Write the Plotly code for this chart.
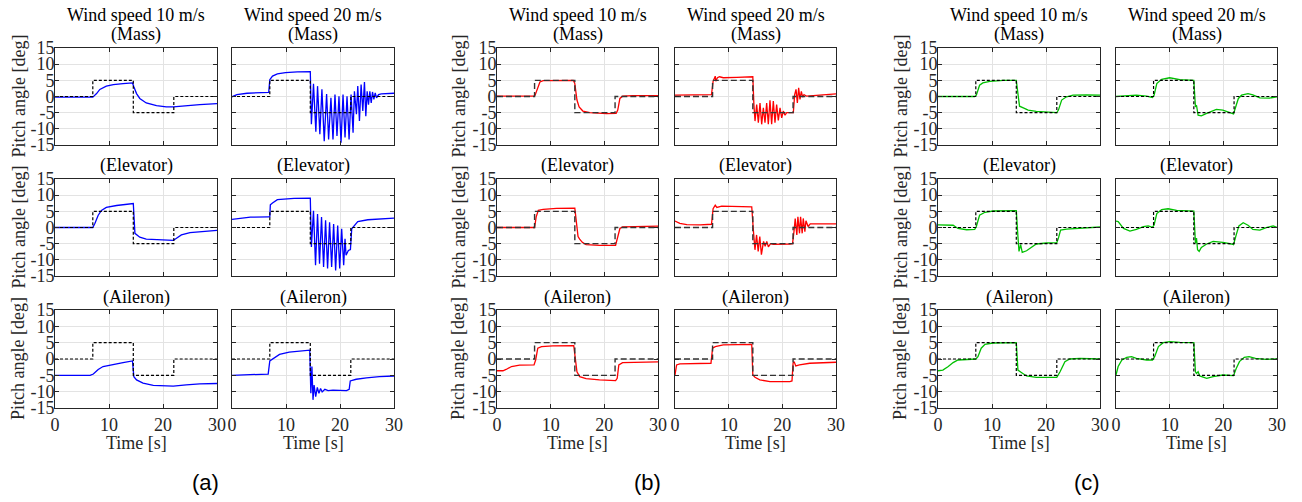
import plotly.graph_objects as go

# ---------------- data ----------------
ref_t = [0, 7, 7, 14.5, 14.5, 22, 22, 30]
ref_y = [0, 0, 5, 5, -5, -5, 0, 0]

x_ticks = [0, 10, 20, 30]
y_ticks = [-15, -10, -5, 0, 5, 10, 15]
y_ticktext = ["-15", "-10", "-5", "0", "5", "10", "15"]

col_titles = ["Wind speed 10 m/s", "Wind speed 20 m/s"]
row_titles = ["(Mass)", "(Elevator)", "(Aileron)"]
group_labels = ["(a)", "(b)", "(c)"]
group_colors = ["#0000FF", "#FF0000", "#00C000"]

# group (a)
a_m10_t = [0, 6.8, 7.0, 7.7, 8.3, 9.5, 10.8, 12.6, 14.35, 14.6, 15.1, 15.7, 16.9, 18.8, 20.6, 21.9, 24.3, 26.8, 30]
a_m10_y = [-0.2, -0.3, -0.2, 0.9, 2.2, 3.2, 3.7, 4.0, 4.2, 3.0, 0.9, -0.6, -2.0, -2.8, -3.2, -3.2, -2.8, -2.5, -2.2]
a_m20_t = [0, 0.9, 2.8, 4.7, 6.8, 7.0, 7.5, 8.4, 9.9, 12.1, 14.5, 14.7, 15.09, 15.53, 15.84, 16.27, 16.65, 17.08,
           17.52, 17.89, 18.32, 18.70, 19.07, 19.44, 19.81, 20.19, 20.56, 20.93, 21.30, 21.68, 22.05, 22.42, 22.67,
           23.04, 23.29, 23.60, 23.91, 24.22, 24.53, 24.78, 25.03, 25.28, 25.53, 25.78, 26.02, 26.27, 26.52, 26.77,
           27.14, 27.64, 30]
a_m20_y = [-0.1, 0.6, 1.0, 1.1, 1.3, 5.2, 6.3, 7.0, 7.4, 7.6, 7.7, -8.6, 3.9, -10.9, 3.2, -11.7, 2.2, -13.8,
           0.8, -13.3, -0.4, -13.3, 0.6, -12.2, 0.1, -14.3, 0.6, -12.7, 0.1, -13.3, 0.6, -11.2, 1.6,
           -5.5, 3.2, -7.6, 3.7, -4.5, 4.5, -6.1, 1.6, -2.5, 1.6, -2.0, 1.4, -0.9, 1.1, -0.4,
           0.6, 0.8, 1.0]
a_e10_t = [0, 7.0, 7.4, 8.0, 8.6, 9.5, 11.4, 13.2, 14.5, 14.8, 15.1, 15.7, 16.9, 19.4, 21.9, 22.5, 23.4, 25.0, 27.4, 30]
a_e10_y = [0, 0, 1.3, 3.8, 5.3, 6.2, 6.8, 7.1, 7.4, -1.8, -2.3, -3.0, -3.6, -3.9, -4.0, -3.3, -2.3, -1.6, -1.2, -0.9]
a_e20_t = [0, 1.55, 3.4, 6.8, 7.0, 7.1, 7.5, 8.4, 11.5, 14.5, 14.7, 15.09, 15.47, 15.84, 16.21, 16.58, 16.96, 17.33,
           17.70, 18.07, 18.45, 18.82, 19.19, 19.57, 19.94, 20.31, 20.68, 20.93, 21.12, 21.55, 21.93, 22.17, 22.67,
           23.29, 25.16, 27.64, 30]
a_e20_y = [2.5, 2.9, 3.2, 3.3, 3.3, 7.0, 7.6, 8.6, 9.0, 9.1, -6.0, 5.2, -11.7, 4.2, -11.2, 3.2, -12.2, 2.2,
           -12.7, 1.6, -12.2, 1.1, -13.3, 0.6, -12.7, -0.4, -11.7, -3.5, -8.6, -7.1, -6.8, -0.4, 0.6,
           1.8, 2.4, 2.7, 2.9]
a_a10_t = [0, 6.5, 7.1, 8.0, 8.9, 10.8, 12.6, 14.35, 14.6, 15.1, 16.3, 18.2, 20.6, 21.9, 24.3, 26.8, 30]
a_a10_y = [-5.0, -5.0, -4.6, -3.2, -2.3, -1.6, -1.1, -0.6, -5.4, -6.4, -7.4, -8.1, -8.3, -8.3, -7.9, -7.6, -7.5]
a_a20_t = [0, 3.3, 6.7, 7.0, 7.6, 8.8, 10.6, 12.5, 14.4, 14.6, 14.8, 15.0, 15.2, 15.5, 15.8, 16.1, 16.4, 16.7,
           17.2, 17.8, 18.7, 21.2, 21.7, 21.9, 23.0, 24.9, 27.3, 30]
a_a20_y = [-5.0, -4.8, -4.6, -0.6, 0.1, 1.4, 2.1, 2.4, 2.7, -10.5, -2.3, -12.5, -8.0, -11.5, -8.7, -10.5, -9.0, -10.1,
           -9.3, -9.7, -9.5, -9.7, -9.3, -6.7, -6.2, -5.8, -5.4, -5.2]

# group (b)
b_m10_t = [0, 6.9, 7.1, 7.5, 8.0, 8.6, 11.1, 14.2, 14.5, 14.9, 15.3, 16.0, 17.3, 20.4, 22.2, 22.5, 22.9, 23.4, 25.3, 30]
b_m10_y = [0.1, 0.1, 0.4, 2.5, 4.5, 4.9, 5.0, 5.0, 4.0, -1.1, -3.2, -4.5, -5.0, -5.3, -5.2, -4.2, -0.6, 0.1, 0.3, 0.3]
b_m20_t = [0, 6.5, 6.8, 7.1, 7.5, 7.6, 7.9, 8.3, 9.0, 11.5, 14.5, 14.7, 14.91, 15.22, 15.53, 15.84, 16.15, 16.46,
           16.77, 17.08, 17.39, 17.70, 18.01, 18.32, 18.63, 18.94, 19.25, 19.57, 19.88, 20.19, 20.50, 20.81, 21.74,
           22.05, 22.30, 22.55, 22.80, 23.04, 23.29, 23.54, 23.79, 24.04, 24.53, 25.78, 30]
b_m20_y = [0.4, 0.4, 0.6, 4.7, 6.3, 4.7, 5.8, 6.1, 5.8, 5.9, 6.1, -2.5, -7.6, -2.5, -8.1, -2.0, -8.6, -3.5,
           -8.1, -2.0, -8.6, -1.2, -8.6, -1.4, -8.1, -2.5, -7.4, -3.5, -6.6, -4.5, -5.8, -5.0, -5.1,
           -5.0, 0.6, 2.2, -2.0, 2.7, -0.9, 1.6, -0.2, 0.6, 0.1, 0.3, 0.8]
b_e10_t = [0, 7.0, 7.3, 7.7, 8.6, 11.1, 14.5, 14.8, 15.1, 15.4, 15.9, 16.6, 19.1, 22.1, 22.4, 22.9, 23.4, 26.6, 30]
b_e10_y = [0, 0, 3.3, 5.3, 5.6, 5.9, 6.0, 2.3, -2.8, -3.6, -4.6, -5.3, -5.5, -5.5, -3.8, -0.3, 0.2, 0.3, 0.4]
b_e20_t = [0, 0.9, 2.2, 4.7, 6.8, 7.1, 7.5, 7.8, 8.7, 10.9, 14.3, 14.6, 14.9, 15.2, 15.5, 15.8, 16.1, 16.5, 16.8,
           17.1, 17.4, 17.8, 18.3, 21.4, 21.9, 22.2, 22.4, 22.7, 22.9, 23.2, 23.4, 23.7, 23.9, 24.2, 24.4, 24.8,
           25.2, 30]
b_e20_y = [2.0, 1.3, 0.9, 0.8, 1.0, 5.8, 6.9, 6.2, 6.6, 6.6, 6.4, -0.8, -6.9, -2.3, -7.4, -2.8, -8.4, -4.3, -5.8,
           -4.3, -6.0, -5.0, -5.2, -5.1, -5.0, -0.8, 2.8, -2.3, 3.3, -1.8, 3.3, -1.8, 2.8, -1.3, 2.1, 0.3,
           1.1, 1.1]
b_a10_t = [0, 0.5, 1.1, 1.7, 2.7, 4.2, 6.9, 7.2, 7.6, 8.3, 10.4, 14.3, 14.5, 14.9, 15.4, 16.6, 19.1, 22.1, 22.4,
           22.7, 23.4, 26.6, 30]
b_a10_y = [-3.6, -3.7, -3.6, -3.2, -2.3, -1.9, -1.8, -0.3, 3.3, 3.8, 4.0, 4.1, 1.7, -3.9, -5.4, -6.0, -6.4, -6.6,
           -5.9, -1.8, -1.1, -0.9, -0.9]
b_a20_t = [0, 0.3, 0.9, 3.4, 6.7, 7.0, 7.5, 9.0, 11.5, 14.3, 14.5, 14.9, 15.8, 17.7, 21.4, 21.8, 22.0, 22.2, 22.5,
           23.2, 25.1, 30]
b_a20_y = [-4.9, -1.8, -1.5, -1.5, -1.3, 3.3, 3.8, 4.3, 4.5, 4.5, -4.9, -5.6, -6.4, -6.9, -6.9, -6.7, -1.3, -0.8,
           -2.1, -1.8, -1.3, -1.0]

# group (c)
c_m10_t = [0, 6.8, 7.1, 7.7, 8.3, 9.6, 12.1, 14.5, 14.8, 15.1, 15.8, 16.7, 18.2, 20.1, 22.0, 22.3, 22.9, 23.8, 25.0, 27.5, 30]
c_m10_y = [0, 0, 0.4, 3.5, 4.2, 4.7, 5.0, 5.0, 0.9, -3.0, -3.5, -4.2, -4.6, -4.9, -5.0, -4.2, -1.1, -0.1, 0.4, 0.5, 0.4]
c_m20_t = [0, 2.6, 3.8, 5.7, 6.8, 7.1, 7.6, 8.5, 10.0, 11.9, 13.1, 14.5, 14.8, 15.0, 15.3, 15.9, 16.9, 18.7, 19.9,
           21.5, 21.9, 22.4, 22.8, 23.4, 24.6, 25.5, 26.8, 28.6, 30]
c_m20_y = [0, 0.2, 0.4, 0.1, -0.3, 0.4, 4.0, 5.3, 5.8, 5.2, 5.0, 5.0, -3.2, -2.7, -5.8, -6.0, -5.2, -4.0, -4.2,
           -5.2, -5.4, -2.7, -0.6, 0.4, 0.9, 0.5, -0.4, -0.5, -0.1]
c_e10_t = [0, 2.8, 3.7, 5.3, 6.8, 7.1, 7.7, 8.7, 10.2, 14.5, 14.8, 15.0, 15.3, 15.6, 16.4, 17.3, 18.2, 20.1, 22.0,
           22.3, 22.7, 23.8, 25.7, 28.1, 30]
c_e10_y = [0.8, 0.7, -0.3, -0.7, -0.6, 0.3, 3.8, 4.7, 5.1, 5.2, -2.8, -7.4, -5.3, -7.7, -7.2, -6.1, -5.1, -4.8, -4.7,
           -3.3, -0.8, -0.5, -0.3, 0.05, 0.15]
c_e20_t = [0, 0.4, 1.4, 2.6, 3.8, 5.1, 6.0, 6.8, 7.1, 7.6, 8.5, 9.7, 11.3, 14.5, 14.8, 15.0, 15.2, 15.5, 15.9, 16.9,
           18.1, 19.9, 21.5, 21.9, 22.4, 22.9, 23.7, 24.6, 25.5, 26.8, 28.0, 29.3, 30]
c_e20_y = [2.0, 1.8, -0.3, -1.1, -0.6, 0.3, 0.5, 0.05, 0.8, 4.3, 5.5, 5.8, 5.3, 5.1, -4.8, -3.3, -6.9, -7.4, -6.2, -5.1,
           -4.3, -4.6, -5.1, -5.3, -2.3, 0.5, 1.5, 0.7, -0.6, -0.8, -0.05, 0.5, 0.05]
c_a10_t = [0, 0.9, 1.9, 2.8, 3.7, 5.3, 7.0, 7.4, 8.0, 8.7, 10.2, 14.5, 14.8, 15.5, 16.4, 18.2, 22.0, 22.6, 23.5,
           24.4, 26.3, 30]
c_a10_y = [-3.6, -3.4, -2.3, -1.1, -0.3, -0.1, 0, 0.7, 3.3, 4.5, 4.9, 5.0, -3.4, -4.2, -5.2, -5.6, -5.6, -3.9, -0.8,
           0, 0.2, 0]
c_a20_t = [0, 0.4, 1.1, 2.0, 2.9, 3.8, 5.7, 6.8, 7.2, 7.9, 8.8, 10.0, 11.9, 14.5, 14.8, 15.0, 15.3, 15.6, 16.9,
           18.1, 19.9, 21.9, 22.4, 23.0, 23.9, 24.8, 26.0, 27.9, 30]
c_a20_y = [-4.9, -2.3, -0.3, 0.5, 0.7, 0.2, -0.3, -0.3, 0.7, 3.8, 5.0, 5.3, 5.1, 5.0, -3.9, -4.4, -3.9, -5.2, -5.9,
           -5.4, -4.9, -5.1, -2.9, -0.8, 0.5, 0.7, 0.2, -0.1, 0]

# panels: [group][row][col] -> (t, y)
panels = [
    [[(a_m10_t, a_m10_y), (a_m20_t, a_m20_y)],
     [(a_e10_t, a_e10_y), (a_e20_t, a_e20_y)],
     [(a_a10_t, a_a10_y), (a_a20_t, a_a20_y)]],
    [[(b_m10_t, b_m10_y), (b_m20_t, b_m20_y)],
     [(b_e10_t, b_e10_y), (b_e20_t, b_e20_y)],
     [(b_a10_t, b_a10_y), (b_a20_t, b_a20_y)]],
    [[(c_m10_t, c_m10_y), (c_m20_t, c_m20_y)],
     [(c_e10_t, c_e10_y), (c_e20_t, c_e20_y)],
     [(c_a10_t, c_a10_y), (c_a20_t, c_a20_y)]],
]

# ---------------- layout geometry ----------------
W, H = 1302, 502
col_px = [[(55, 217), (232, 394)], [(497, 658), (675, 836)], [(938, 1100), (1116, 1277)]]
row_px = [(48, 145), (179, 276), (310, 408)]
ylab_x = [18, 458, 900]
glabel_x = [205, 647, 1087]

SERIF = "Liberation Serif, Times New Roman, Times, serif"
TXT = "#262626"
ref_styles = [dict(color="black", width=1.2, dash="3px,2px"),
              dict(color="#333333", width=1.4, dash="6px,3px"),
              dict(color="black", width=1.2, dash="3px,2px")]

fig = go.Figure()
layout = {}
annotations = []

def px2x(px):
    return px / W

def py2y(py):
    return 1 - py / H

n = 0
for g in range(3):
    for r in range(3):
        for c in range(2):
            n += 1
            t, y = panels[g][r][c]
            assert len(t) == len(y), (g, r, c, len(t), len(y))
            xs = "" if n == 1 else str(n)
            x0, x1 = col_px[g][c]
            y0, y1 = row_px[r]
            fig.add_trace(go.Scatter(x=t, y=y, mode="lines", xaxis="x" + xs, yaxis="y" + xs,
                                     line=dict(color=group_colors[g], width=1.3), showlegend=False,
                                     hoverinfo="skip"))
            fig.add_trace(go.Scatter(x=ref_t, y=ref_y, mode="lines", xaxis="x" + xs, yaxis="y" + xs,
                                     line=ref_styles[g], showlegend=False, hoverinfo="skip"))
            common = dict(showline=True, linecolor=TXT, linewidth=1, mirror="ticks",
                          ticks="inside", ticklen=4, tickcolor=TXT, tickwidth=1, automargin=False,
                          showgrid=True, gridcolor="#E3E3E3", gridwidth=1, zeroline=False,
                          tickfont=dict(family=SERIF, size=18, color=TXT))
            layout["xaxis" + xs] = dict(common, domain=[px2x(x0), px2x(x1)], anchor="y" + xs,
                                        range=[0, 30], tickvals=x_ticks,
                                        showticklabels=(r == 2))
            layout["yaxis" + xs] = dict(common, domain=[py2y(y1), py2y(y0)], anchor="x" + xs,
                                        range=[-15, 15], tickvals=y_ticks, ticktext=y_ticktext,
                                        showticklabels=(c == 0), ticklabelstandoff=-4)
            cx = px2x((x0 + x1) / 2)
            # subplot titles
            if r == 0:
                annotations.append(dict(text=col_titles[c], x=cx, y=py2y(15), xref="paper", yref="paper",
                                        showarrow=False, xanchor="center", yanchor="middle",
                                        font=dict(family=SERIF, size=18, color="black")))
                annotations.append(dict(text=row_titles[r], x=cx, y=py2y(35), xref="paper", yref="paper",
                                        showarrow=False, xanchor="center", yanchor="middle",
                                        font=dict(family=SERIF, size=18, color="black")))
            else:
                annotations.append(dict(text=row_titles[r], x=cx, y=py2y(y0 - 13), xref="paper",
                                        yref="paper", showarrow=False, xanchor="center", yanchor="middle",
                                        font=dict(family=SERIF, size=18, color="black")))
            if r == 2:
                annotations.append(dict(text="Time [s]", x=cx, y=py2y(443), xref="paper", yref="paper",
                                        showarrow=False, xanchor="center", yanchor="middle",
                                        font=dict(family=SERIF, size=18, color=TXT)))
            if c == 0:
                annotations.append(dict(text="Pitch angle [deg]", x=px2x(ylab_x[g]), y=py2y((y0 + y1) / 2),
                                        xref="paper", yref="paper", showarrow=False, textangle=-90,
                                        xanchor="center", yanchor="middle",
                                        font=dict(family=SERIF, size=18, color=TXT)))
    annotations.append(dict(text=group_labels[g], x=px2x(glabel_x[g]), y=py2y(482), xref="paper", yref="paper",
                            showarrow=False, xanchor="center", yanchor="middle",
                            font=dict(family="Liberation Sans, Arial, sans-serif", size=22, color="black")))

fig.update_layout(**layout)
fig.update_layout(width=W, height=H, margin=dict(l=0, r=0, t=0, b=0, pad=0),
                  paper_bgcolor="white", plot_bgcolor="white",
                  annotations=annotations, showlegend=False)
fig.write_html("out.html", config={"displayModeBar": False},
               post_script="document.body.style.margin='0';document.body.style.overflow='hidden';")
